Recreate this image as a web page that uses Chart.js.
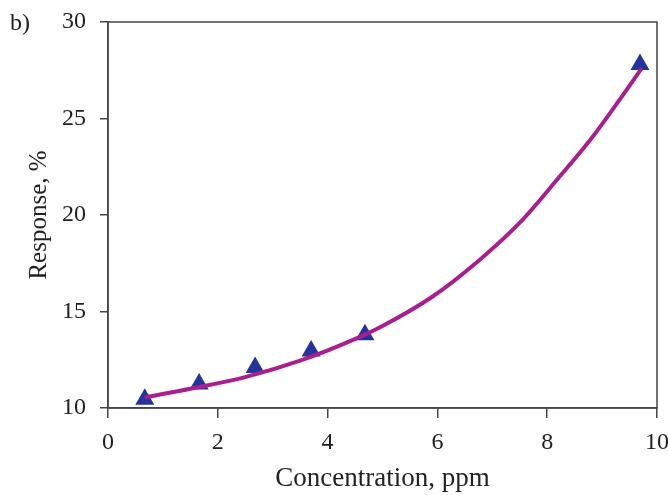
<!DOCTYPE html>
<html>
<head>
<meta charset="utf-8">
<script src="https://cdn.jsdelivr.net/npm/chart.js@4"></script>
<style>
  html, body { margin: 0; padding: 0; background: #fff; }
  #wrap { width: 668px; height: 495px; }
</style>
</head>
<body>
<div id="wrap"><canvas id="chart"></canvas></div>
<script>
// measured points (triangles)
const measuredConc = [0.67, 1.66, 2.68, 3.7, 4.68, 9.69];
const measuredResp = [10.45, 11.25, 12.1, 12.95, 13.8, 27.8];
// fitted curve
const fitConc = [0.67, 1.5, 2.5, 3.5, 4.4, 5.0, 5.9, 6.8, 7.5, 8.2, 8.8, 9.3, 9.72];
const fitResp = [10.55, 11.0, 11.6, 12.45, 13.45, 14.25, 15.75, 17.75, 19.6, 21.9, 23.95, 25.9, 27.6];
const xTicks = [0, 2, 4, 6, 8, 10];
const yTicks = [10, 15, 20, 25, 30];

const FONT = '"Liberation Serif", "DejaVu Serif", serif';
const AXIS = '#444';

function el(id) { return document.getElementById(id); }
function pts(xs, ys) { return xs.map((x, i) => ({ x, y: ys[i] })); }

// box around the plot + the panel letter
const frame = {
  id: 'frame',
  afterDraw(chart) {
    const { ctx, chartArea: a } = chart;
    ctx.save();
    ctx.strokeStyle = AXIS;
    ctx.lineWidth = 1.5;
    ctx.strokeRect(a.left, a.top, a.right - a.left, a.bottom - a.top);
    ctx.fillStyle = '#222';
    ctx.font = `24px ${FONT}`;
    ctx.textBaseline = 'middle';
    ctx.fillText('b)', 10, 24);
    ctx.restore();
  }
};

// no automatic room for overflowing labels: the plot box is fixed by the layout padding
function noPad(s) {
  s.paddingTop = 0; s.paddingBottom = 0; s.paddingLeft = 0; s.paddingRight = 0;
}

new Chart(el('chart').getContext('2d'), {
  type: 'scatter',
  data: { datasets: [
    { type: 'line', label: 'fit', data: pts(fitConc, fitResp), borderColor: '#a8208f',
      borderWidth: 4, pointRadius: 0, fill: false, cubicInterpolationMode: 'monotone', order: 0 },
    { label: 'measured', data: pts(measuredConc, measuredResp), pointStyle: 'triangle',
      pointRadius: 11, backgroundColor: '#25349b', borderColor: '#25349b', borderWidth: 0, clip: false, order: 1 },
  ] },
  options: {
    responsive: true, maintainAspectRatio: false, animation: false,
    layout: { padding: { top: 22, right: 11, left: 0, bottom: 0 } },
    plugins: { legend: { display: false }, tooltip: { enabled: false } },
    scales: {
      x: {
        type: 'linear', min: 0, max: 10,
        afterBuildTicks: s => { s.ticks = xTicks.map(v => ({ value: v })); },
        afterFit: s => { s.height = 87; noPad(s); },
        grid: { drawOnChartArea: false, drawTicks: true, tickLength: 10, color: AXIS, lineWidth: 1.5 },
        border: { display: true, color: AXIS, width: 1.5 },
        ticks: { color: '#222', font: { family: FONT, size: 24 }, padding: 10, maxRotation: 0 },
        title: { display: true, text: 'Concentration, ppm', color: '#222', font: { family: FONT, size: 27 }, padding: { top: 0, bottom: 0 } },
      },
      y: {
        type: 'linear', min: 10, max: 30,
        afterBuildTicks: s => { s.ticks = yTicks.map(v => ({ value: v })); },
        afterFit: s => { s.width = 108; noPad(s); },
        grid: { drawOnChartArea: false, drawTicks: true, tickLength: 8, color: AXIS, lineWidth: 1.5 },
        border: { display: true, color: AXIS, width: 1.5 },
        ticks: { color: '#222', font: { family: FONT, size: 24 }, padding: 14 },
        title: { display: true, text: 'Response, %', color: '#222', font: { family: FONT, size: 25 }, padding: { top: 24, bottom: 0 } },
      },
    },
  },
  plugins: [frame],
});
</script>
</body>
</html>
